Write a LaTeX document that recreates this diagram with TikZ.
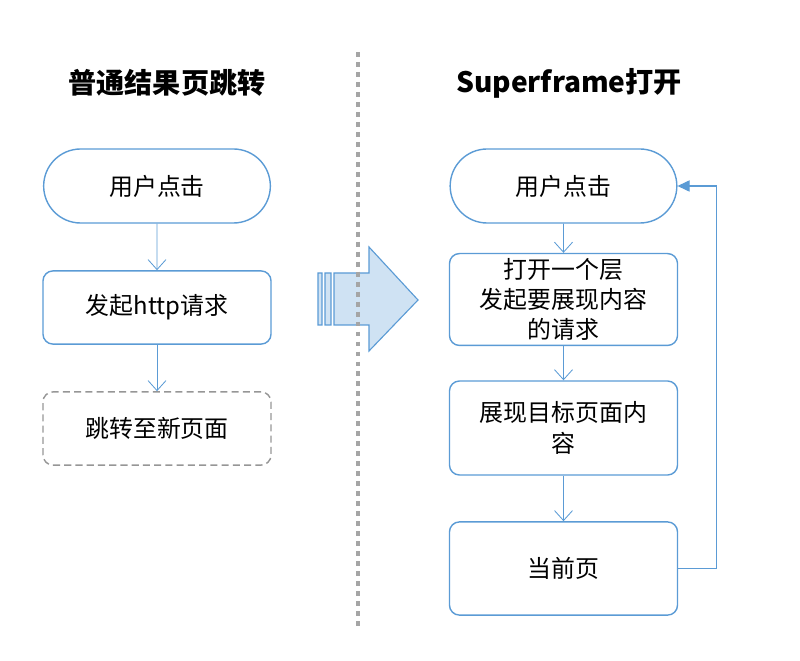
\documentclass[tikz,border=0pt]{standalone}
\usepackage{fontspec}
\setmainfont{Noto Sans CJK SC}
\usetikzlibrary{arrows.meta,shapes.misc}
\definecolor{lineblue}{RGB}{91,155,213}
\definecolor{arrowfill}{RGB}{207,226,243}
\definecolor{dotgray}{RGB}{165,165,165}
\definecolor{dashgray}{RGB}{150,150,150}
\tikzset{
  boxtext/.style={font=\fontsize{17}{21.5}\selectfont,align=center,text=black},
  startbox/.style={rounded rectangle,draw=lineblue,line width=1pt,
    minimum width=5.9cm,minimum height=1.85cm,boxtext},
  procbox/.style={rectangle,rounded corners=0.25cm,draw=lineblue,line width=1pt,
    minimum width=5.7cm,boxtext},
  endbox/.style={procbox,draw=dashgray,dash pattern=on 5pt off 3pt},
  title/.style={font=\fontsize{20}{24}\selectfont\bfseries},
  flow/.style={draw=lineblue,line width=0.6pt,-{Straight Barb[length=0.25cm,width=0.45cm]}},
  back/.style={draw=lineblue,line width=0.8pt,-{Triangle[length=0.3cm,width=0.28cm]}},
}
\begin{document}
\begin{tikzpicture}[x=0.025cm,y=-0.025cm]
  \useasboundingbox (0,0) rectangle (800,661);
  % 标题
  \node[title] (ltitle) at (167,83) {普通结果页跳转};
  \node[title] (rtitle) at (569,83) {Superframe打开};
  % 普通跳转流程
  \node[startbox] (luser) at (157,186) {用户点击};
  \node[procbox,minimum height=1.83cm] (lreq) at (157,307.5) {发起http请求};
  \node[endbox,minimum height=1.83cm] (lnew) at (157,428.5) {跳转至新页面};
  \draw[flow] (luser) -- (lreq);
  \draw[flow] (lreq) -- (lnew);
  % Superframe流程
  \node[startbox] (ruser) at (563.5,186) {用户点击};
  \node[procbox,minimum height=2.23cm] (rlayer) at (563.5,299.5) {打开一个层\\发起要展现内容\\的请求};
  \node[procbox,minimum height=2.35cm] (rshow) at (563.5,428) {展现目标页面内\\容};
  \node[procbox,minimum height=2.33cm] (rcur) at (563.5,568.5) {当前页};
  \draw[flow] (ruser) -- (rlayer);
  \draw[flow] (rlayer) -- (rshow);
  \draw[flow] (rshow) -- (rcur);
  \draw[back] (rcur.east) -- ++(38,0) |- (ruser.east);
  % 中间大箭头
  \filldraw[draw=lineblue,fill=arrowfill,line width=0.8pt]
    (318,273) rectangle (322,325)
    (325,273) rectangle (331,325)
    (334,273) -- (369,273) -- (369,247) -- (418,300) -- (369,351)
    -- (369,325) -- (334,325) -- cycle;
  % 分隔线
  \draw[dotgray,line width=2.4pt,dash pattern=on 3.5pt off 3.6pt] (358,52) -- (358,628);
\end{tikzpicture}
\end{document}
